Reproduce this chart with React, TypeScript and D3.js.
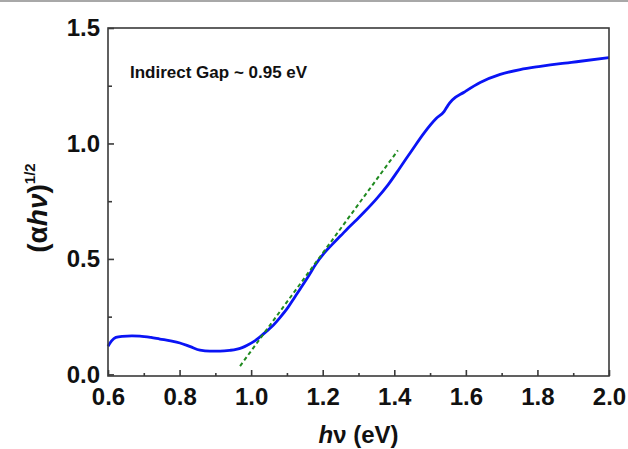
import React, { useEffect, useRef } from 'react';
import * as d3 from 'd3';

// photon energy (eV) and (alpha*h*nu)^1/2
const energy = [0.6, 0.61, 0.622, 0.64, 0.667, 0.689, 0.72, 0.745, 0.775, 0.801, 0.83, 0.857, 0.885, 0.913, 0.94, 0.958, 0.975, 0.991, 1.008, 1.025, 1.042, 1.058, 1.08, 1.103, 1.12, 1.137, 1.16, 1.181, 1.204, 1.226, 1.25, 1.271, 1.295, 1.316, 1.349, 1.383, 1.416, 1.45, 1.483, 1.517, 1.539, 1.55, 1.562, 1.595, 1.64, 1.696, 1.752, 1.808, 1.864, 1.92, 2.0];
const absorb = [0.122, 0.145, 0.16, 0.165, 0.167, 0.166, 0.16, 0.153, 0.145, 0.136, 0.12, 0.105, 0.101, 0.101, 0.104, 0.108, 0.116, 0.128, 0.143, 0.163, 0.185, 0.207, 0.245, 0.29, 0.33, 0.37, 0.425, 0.478, 0.525, 0.562, 0.6, 0.634, 0.67, 0.703, 0.758, 0.822, 0.895, 0.972, 1.045, 1.108, 1.138, 1.165, 1.188, 1.222, 1.264, 1.299, 1.32, 1.334, 1.346, 1.356, 1.372];

// linear fit used for the gap extrapolation
const fitX = [0.969, 1.41];
const fitY = [0.036, 0.97];

const xTicks = [0.6, 0.8, 1.0, 1.2, 1.4, 1.6, 1.8, 2.0];
const xMinor = [0.7, 0.9, 1.1, 1.3, 1.5, 1.7, 1.9];
const yTicks = [0.0, 0.5, 1.0, 1.5];
const yMinor = [0.25, 0.75, 1.25];

const FONT = '"Liberation Sans", Arial, sans-serif';

const App = () => {
  const svgRef = useRef(null);

  useEffect(() => {
    const svg = d3.select(svgRef.current);
    svg.selectAll('*').remove();
    const left = 108, right = 609, top = 28, bottom = 376;

    const x = d3.scaleLinear().domain([0.6, 2.0]).range([left, right]);
    const y = d3.scaleLinear().domain([-0.007, 1.5]).range([bottom, top]);

    svg.append('rect').attr('width', 628).attr('height', 449).attr('fill', '#fff');
    svg.append('rect').attr('width', 628).attr('height', 2).attr('fill', '#a8a8a8');

    // curve
    const line = d3.line<number>()
      .x((d, i) => x(energy[i]))
      .y(d => y(d))
      .curve(d3.curveMonotoneX);
    svg.append('path')
      .attr('d', line(absorb))
      .attr('fill', 'none')
      .attr('stroke', '#0a14f5')
      .attr('stroke-width', 2.8);

    // fit line
    svg.append('line')
      .attr('x1', x(fitX[0])).attr('y1', y(fitY[0]))
      .attr('x2', x(fitX[1])).attr('y2', y(fitY[1]))
      .attr('stroke', '#1f8a1f')
      .attr('stroke-width', 2)
      .attr('stroke-dasharray', '4,3');

    // frame
    svg.append('rect')
      .attr('x', left).attr('y', top)
      .attr('width', right - left).attr('height', bottom - top)
      .attr('fill', 'none').attr('stroke', '#3a3a3a').attr('stroke-width', 1.6);

    // x axis (inward ticks)
    const xa = svg.append('g').attr('transform', `translate(0,${bottom})`)
      .call(d3.axisBottom(x).tickValues(xTicks).tickSize(-6).tickFormat(d3.format('.1f')));
    xa.select('.domain').remove();
    xa.selectAll('line').attr('stroke', '#3a3a3a').attr('stroke-width', 1.6);
    xa.selectAll('text').attr('y', 29).attr('dy', 0)
      .attr('font-family', FONT).attr('font-weight', 'bold').attr('font-size', 24).attr('fill', '#111');
    svg.append('g').attr('transform', `translate(0,${bottom})`)
      .call(d3.axisBottom(x).tickValues(xMinor).tickSize(-3).tickFormat(() => ''))
      .call(g => g.select('.domain').remove())
      .selectAll('line').attr('stroke', '#3a3a3a').attr('stroke-width', 1.6);

    // y axis
    const ya = svg.append('g').attr('transform', `translate(${left},0)`)
      .call(d3.axisLeft(y).tickValues(yTicks).tickSize(-6).tickFormat(d3.format('.1f')));
    ya.select('.domain').remove();
    ya.selectAll('line').attr('stroke', '#3a3a3a').attr('stroke-width', 1.6);
    ya.selectAll('text').attr('x', -8)
      .attr('font-family', FONT).attr('font-weight', 'bold').attr('font-size', 24).attr('fill', '#111');
    svg.append('g').attr('transform', `translate(${left},0)`)
      .call(d3.axisLeft(y).tickValues(yMinor).tickSize(-4).tickFormat(() => ''))
      .call(g => g.select('.domain').remove())
      .selectAll('line').attr('stroke', '#3a3a3a').attr('stroke-width', 1.6);

    // annotation
    svg.append('text')
      .attr('x', 130).attr('y', 78)
      .attr('font-family', FONT).attr('font-weight', 'bold').attr('font-size', 17).attr('fill', '#111')
      .text('Indirect Gap ~ 0.95 eV');

    // x label
    const xl = svg.append('text')
      .attr('x', (left + right) / 2).attr('y', 443)
      .attr('text-anchor', 'middle')
      .attr('font-family', FONT).attr('font-weight', 'bold').attr('font-size', 24).attr('fill', '#111');
    xl.append('tspan').attr('font-style', 'italic').text('h');
    xl.append('tspan').text('\u03bd (eV)');

    // y label
    const yl = svg.append('text')
      .attr('transform', `translate(47,208) rotate(-90)`)
      .attr('text-anchor', 'middle')
      .attr('font-family', FONT).attr('font-weight', 'bold').attr('font-size', 28).attr('fill', '#111');
    yl.append('tspan').text('(\u03b1');
    yl.append('tspan').attr('font-style', 'italic').text('h\u03bd');
    yl.append('tspan').text(')');
    yl.append('tspan').attr('font-size', 15).attr('dy', -12).text('1/2');
  }, []);

  return (
    <svg ref={svgRef} width="628" height="449" style={{ position: 'absolute', left: 0, top: 0 }}>
    </svg>
  );
};

export default App;
